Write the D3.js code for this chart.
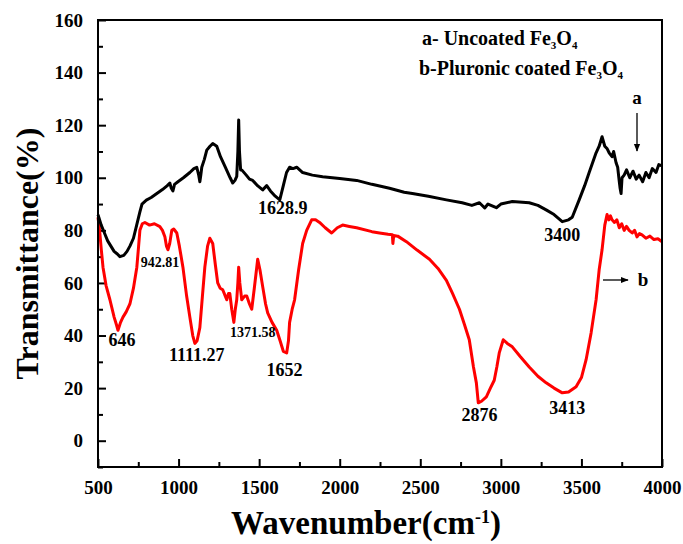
<!DOCTYPE html>
<html>
<head>
<meta charset="utf-8">
<script src="https://cdn.jsdelivr.net/npm/d3@7"></script>
<style>
  body { margin: 0; background: #fff; }
  text { font-family: "Liberation Serif", "Times New Roman", serif; font-weight: bold; }
</style>
</head>
<body>
<div id="chart"></div>
<script>
// uncoated Fe3O4 (a): [wavenumber, transmittance]
const uncoated = [
  [500,86],[520,82],[540,79],[560,76],[580,74],[600,72],[620,71],[636,70],[660,70.5],[680,72],
  [698,74],[720,77],[740,82],[760,87],[773,90],[800,91.5],[830,92.5],[865,94],[900,95.5],[930,97],
  [946,98],[955,96],[965,95],[975,97.5],[996,98.5],[1030,100],[1070,102],[1095,103.5],[1113,104],
  [1125,101],[1132,98.5],[1138,101],[1144,104],[1160,107],[1175,110.5],[1195,112],[1212,113],
  [1237,112],[1260,108],[1290,104],[1320,100],[1336,98],[1350,99],[1361,100.5],[1368,110],
  [1373,122],[1378,110],[1385,103],[1392,103],[1420,101],[1440,99.5],[1460,99],[1490,97],
  [1522,95.4],[1547,97],[1570,95],[1600,93],[1628,91.6],[1650,97],[1670,102],[1689,104],
  [1710,103.5],[1733,104],[1770,102],[1830,101],[1894,100.4],[2000,99.7],[2105,99],[2200,97.5],
  [2309,96],[2400,94.5],[2451,94],[2550,93],[2662,91.6],[2760,90.5],[2820,89.5],[2867,90.5],
  [2900,88.5],[2920,90],[2972,88.6],[3000,90],[3071,91],[3176,90.5],[3230,89.5],[3281,87.8],
  [3330,86],[3381,83.3],[3420,84],[3443,85],[3486,91.6],[3520,97],[3548,102],[3591,109.5],
  [3610,112],[3628,115.6],[3645,112],[3660,111],[3672,109.5],[3690,108],[3700,110],[3715,105.7],
  [3725,104],[3734,99],[3740,96],[3746,94],[3752,100],[3765,101],[3780,103],[3800,100],
  [3820,102.5],[3840,99.5],[3858,101],[3880,98.5],[3900,102],[3920,100],[3940,103.5],[3963,102],
  [3980,105],[4000,104.5]
];

// pluronic coated Fe3O4 (b)
const coated = [
  [500,85],[510,80],[520,73],[531,66],[550,59],[574,53.6],[600,47],[615,44],[624,42],[640,45],
  [655,47],[675,49],[698,52],[720,58],[741,66],[752,74],[760,80],[775,82.5],[791,83],[820,82],
  [850,82.5],[884,81.4],[900,80],[915,77.6],[925,74],[934,72.6],[945,75],[958,80],[970,80.5],
  [989,79],[1005,74],[1027,66],[1050,55],[1070,47],[1088,40],[1101,37],[1115,38],[1132,43],
  [1148,55],[1163,66],[1180,74],[1194,77],[1212,75],[1228,67],[1243,60],[1258,58],[1274,57.4],
  [1290,55],[1299,53.6],[1310,56],[1318,56],[1330,50],[1343,45],[1352,50],[1361,53.6],[1368,60],
  [1373,66],[1380,60],[1392,53.6],[1410,55],[1423,55],[1440,52],[1454,50],[1470,58],[1491,69],
  [1505,65],[1522,58.6],[1540,52],[1553,48.6],[1580,45],[1609,42],[1630,38],[1650,34],[1671,33.4],
  [1682,38],[1689,45],[1705,50],[1720,53.6],[1745,65],[1770,75],[1795,80],[1826,84],[1850,84],
  [1875,83],[1910,81],[1950,79],[1985,81],[2018,82],[2060,81.5],[2105,81],[2200,79.5],[2247,79],
  [2300,78.5],[2327,78.3],[2330,75],[2335,78],[2360,77.8],[2414,75.7],[2480,72.5],[2557,69],
  [2610,65.5],[2662,61],[2700,56],[2743,50],[2775,44],[2804,38.4],[2830,28],[2848,22],[2860,14.4],
  [2880,15],[2910,16.7],[2935,20],[2959,23],[2975,28],[2990,33.4],[3015,38.4],[3040,37],
  [3071,35.7],[3120,32],[3176,28],[3230,24.5],[3281,22],[3330,20],[3381,18.2],[3420,18.5],
  [3467,20.5],[3500,24],[3529,30.8],[3560,41],[3591,53.6],[3610,65],[3628,72.6],[3645,82],
  [3659,86],[3670,84],[3680,85.5],[3690,84],[3705,83],[3720,84],[3735,81],[3750,82.5],[3765,80],
  [3780,81.5],[3796,80],[3815,79],[3830,80],[3845,77.5],[3860,78.8],[3876,78.3],[3900,77],
  [3925,77.8],[3950,76.5],[3975,76.8],[4000,75.7]
];

const xTicks = [500, 1000, 1500, 2000, 2500, 3000, 3500, 4000];
const xMinor = [750, 1250, 1750, 2250, 2750, 3250, 3750];
const yTicks = [0, 20, 40, 60, 80, 100, 120, 140, 160];
const yMinor = [-10, 10, 30, 50, 70, 90, 110, 130, 150];

// peak labels: [text, wavenumber, transmittance, small]
const peakLabels = [
  ['1628.9', 1646, 88.6, false],
  ['3400', 3381, 78.3, false],
  ['942.81', 884, 67.7, true],
  ['646', 649, 38.4, false],
  ['1111.27', 1113, 32.7, false],
  ['1371.58', 1460, 41, true],
  ['1652', 1658, 27, false],
  ['2876', 2867, 9.9, false],
  ['3413', 3412, 12.5, false]
];

const width = 683, height = 544;
const margin = { top: 20, right: 21, bottom: 77, left: 98 };
const w = width - margin.left - margin.right;
const h = height - margin.top - margin.bottom;

const svg = d3.select('#chart').append('svg')
  .attr('width', width)
  .attr('height', height);

const g = svg.append('g')
  .attr('transform', `translate(${margin.left},${margin.top})`);

const x = d3.scaleLinear().domain([500, 4000]).range([0, w]);
const y = d3.scaleLinear().domain([-10, 160]).range([h, 0]);

// axes with inward ticks
const xAxis = g.append('g')
  .attr('transform', `translate(0,${h})`)
  .call(d3.axisBottom(x).tickValues(xTicks).tickSize(-8).tickPadding(14).tickFormat(d3.format('d')));
xAxis.append('g')
  .call(d3.axisBottom(x).tickValues(xMinor).tickSize(-5).tickFormat(''));

const yAxis = g.append('g')
  .call(d3.axisLeft(y).tickValues(yTicks).tickSize(-8).tickPadding(15));
yAxis.append('g')
  .call(d3.axisLeft(y).tickValues(yMinor).tickSize(-5).tickFormat(''));

[xAxis, yAxis].forEach(a => a.attr('font-family', '"Liberation Serif", serif').attr('font-size', 19));
g.selectAll('.domain').remove();
g.selectAll('.tick line').attr('stroke', '#000').attr('stroke-width', 2);
g.selectAll('.tick text')
  .attr('fill', '#000')
  .style('font-size', '19px')
  .style('font-family', '"Liberation Serif", serif')
  .style('font-weight', 'bold');

// curves
const line = d3.line().x(d => x(d[0])).y(d => y(d[1]));

g.append('path')
  .datum(coated)
  .attr('fill', 'none')
  .attr('stroke', '#ff0000')
  .attr('stroke-width', 3)
  .attr('stroke-linejoin', 'round')
  .attr('d', line);

g.append('path')
  .datum(uncoated)
  .attr('fill', 'none')
  .attr('stroke', '#000')
  .attr('stroke-width', 3)
  .attr('stroke-linejoin', 'round')
  .attr('d', line);

// frame
g.append('rect')
  .attr('width', w)
  .attr('height', h)
  .attr('fill', 'none')
  .attr('stroke', '#000')
  .attr('stroke-width', 2);

// peak labels
g.selectAll('.peak')
  .data(peakLabels)
  .enter()
  .append('text')
  .attr('class', 'peak')
  .attr('x', d => x(d[1]))
  .attr('y', d => y(d[2]))
  .attr('text-anchor', 'middle')
  .attr('dominant-baseline', 'central')
  .style('font-size', d => d[3] ? '14px' : '18px')
  .text(d => d[0]);

// legend text with subscripts
function formula(sel, prefix) {
  sel.append('tspan').text(prefix + 'Fe');
  sel.append('tspan').attr('baseline-shift', '-35%').style('font-size', '11px').text('3');
  sel.append('tspan').text('O');
  sel.append('tspan').attr('baseline-shift', '-35%').style('font-size', '11px').text('4');
}
svg.append('text').attr('x', 422).attr('y', 45).style('font-size', '20px')
  .call(formula, 'a- Uncoated ');
svg.append('text').attr('x', 419).attr('y', 75).style('font-size', '20px')
  .call(formula, 'b-Pluronic coated ');

// a / b markers with arrows
svg.append('defs').append('marker')
  .attr('id', 'arrow')
  .attr('viewBox', '0 0 10 10')
  .attr('refX', 9).attr('refY', 5)
  .attr('markerWidth', 6).attr('markerHeight', 6)
  .attr('orient', 'auto')
  .append('path').attr('d', 'M0,1L10,5L0,9Z').attr('fill', '#000');

svg.append('text').attr('x', 637).attr('y', 104).attr('text-anchor', 'middle')
  .style('font-size', '19px').text('a');
svg.append('line').attr('x1', 637).attr('y1', 113).attr('x2', 637).attr('y2', 151)
  .attr('stroke', '#000').attr('stroke-width', 1.3).attr('marker-end', 'url(#arrow)');

svg.append('text').attr('x', 643).attr('y', 286).attr('text-anchor', 'middle')
  .style('font-size', '19px').text('b');
svg.append('line').attr('x1', 603).attr('y1', 280).attr('x2', 628).attr('y2', 280)
  .attr('stroke', '#000').attr('stroke-width', 1.3).attr('marker-end', 'url(#arrow)');

// axis titles
svg.append('text')
  .attr('transform', `translate(38,${margin.top + h / 2 + 10}) rotate(-90)`)
  .attr('text-anchor', 'middle')
  .style('font-size', '32px')
  .text('Transmittance(%)');

const xt = svg.append('text')
  .attr('x', 366).attr('y', 534)
  .attr('text-anchor', 'middle')
  .style('font-size', '33px');
xt.append('tspan').text('Wavenumber(cm');
xt.append('tspan').attr('baseline-shift', '60%').style('font-size', '18px').text('-1');
xt.append('tspan').text(')');
</script>
</body>
</html>
